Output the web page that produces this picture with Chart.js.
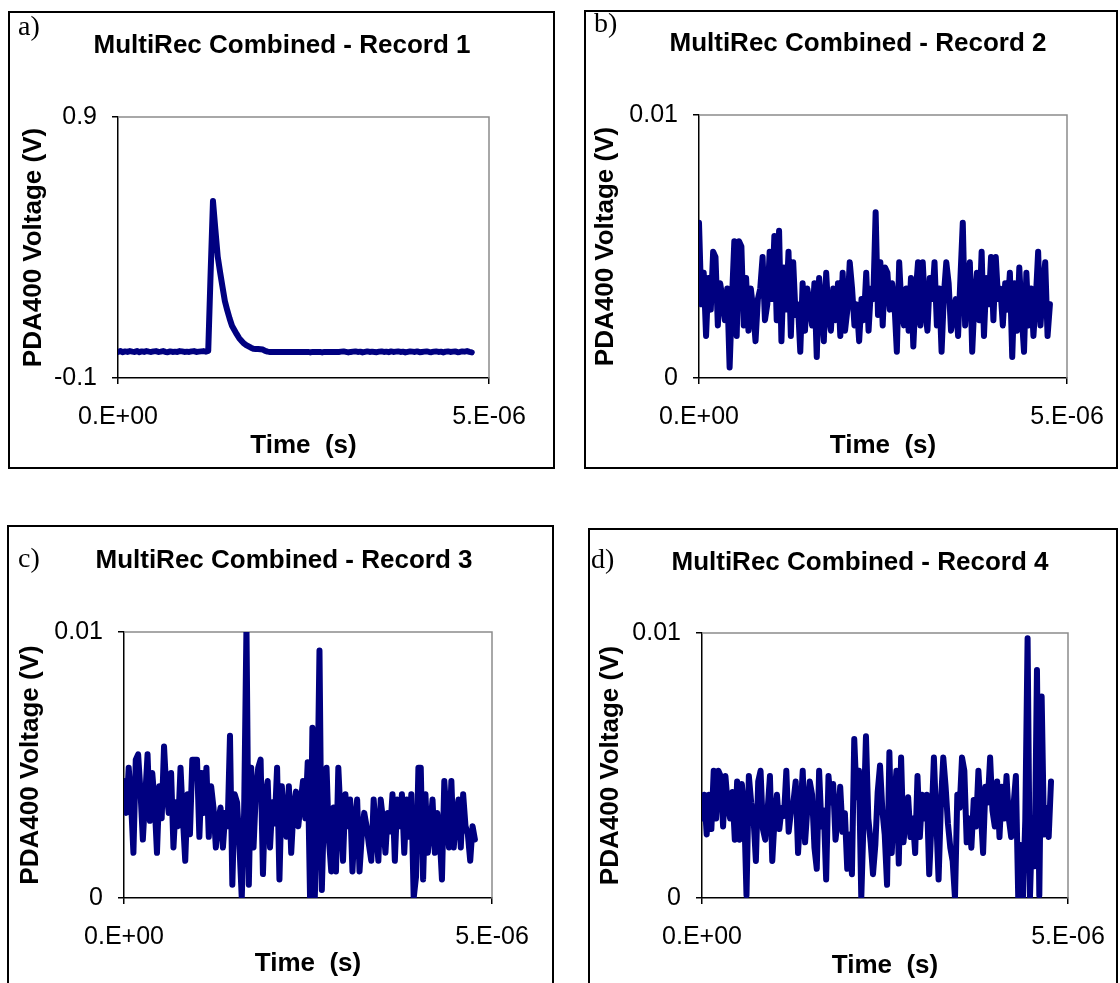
<!DOCTYPE html>
<html>
<head>
<meta charset="utf-8">
<script src="https://cdn.jsdelivr.net/npm/chart.js@4.4.0/dist/chart.umd.min.js"></script>
<style>
body { margin: 0; width: 1120px; height: 983px; overflow: hidden; background: #fff; position: relative; font-family: "Liberation Sans", Arial, sans-serif; }
.frame { position: absolute; border: 2px solid #000; box-sizing: border-box; }
.tag { position: absolute; font-family: "Liberation Serif", "Times New Roman", serif; font-size: 28px; line-height: 28px; color: #000; z-index: 2; }
.title { position: absolute; width: 500px; text-align: center; font-weight: bold; font-size: 26px; line-height: 26px; color: #000; z-index: 2; white-space: nowrap; }
canvas { position: absolute; z-index: 1; }
</style>
</head>
<body>

<div class="frame" style="left:8px;top:11px;width:547px;height:458px"></div>
<div class="frame" style="left:584px;top:10px;width:534px;height:459px"></div>
<div class="frame" style="left:7px;top:525px;width:547px;height:470px"></div>
<div class="frame" style="left:588px;top:528px;width:530px;height:470px"></div>

<div class="tag" style="left:18px;top:12px">a)</div>
<div class="tag" style="left:594px;top:9px">b)</div>
<div class="tag" style="left:18px;top:544px">c)</div>
<div class="tag" style="left:591px;top:545px">d)</div>

<div class="title" style="left:32px;top:31px">MultiRec Combined - Record 1</div>
<div class="title" style="left:608px;top:29px">MultiRec Combined - Record 2</div>
<div class="title" style="left:34px;top:546px">MultiRec Combined - Record 3</div>
<div class="title" style="left:610px;top:548px">MultiRec Combined - Record 4</div>

<canvas id="chart1"></canvas>
<canvas id="chart2"></canvas>
<canvas id="chart3"></canvas>
<canvas id="chart4"></canvas>

<script>
// sampling of the scope records (s)
var timeStep = 0.032e-6;
var sampleCount = 150;

var xTicks = [0, 5e-6];
var xTickLabels = ['0.E+00', '5.E-06'];

var yTicks1 = [-0.1, 0.9];
var yTickLabels1 = ['-0.1', '0.9'];
var yTicksSmall = [0, 0.01];
var yTickLabelsSmall = ['0', '0.01'];

// PDA400 voltage (V)
var record1 = [
  0.000, 0.003, -0.001, 0.002, 0.000, 0.003, 0.001, 0.000, 0.003, -0.001,
  0.002, 0.000, 0.003, 0.001, 0.000, 0.002, 0.003, 0.000, 0.001, 0.003,
  0.000, -0.001, 0.002, 0.000, 0.001, 0.000, 0.003, 0.002, 0.000, 0.001,
  0.000, 0.002, 0.003, 0.000, 0.001, 0.002, 0.003, 0.001, 0.004, 0.300,
  0.578, 0.470, 0.365, 0.305, 0.250, 0.195, 0.160, 0.128, 0.100, 0.084,
  0.068, 0.053, 0.042, 0.033, 0.026, 0.021, 0.016, 0.012, 0.011, 0.011,
  0.010, 0.009, 0.004, 0.001, 0.000, 0.000, 0.000, 0.000, 0.000, 0.000,
  0.000, 0.000, 0.000, 0.000, 0.000, 0.000, 0.000, 0.000, 0.000, 0.000,
  0.000, -0.002, 0.000, 0.000, 0.000, 0.000, -0.002, 0.000, 0.000, 0.000,
  0.000, 0.000, 0.000, 0.000, 0.001, 0.002, 0.000, -0.002, 0.000, 0.001,
  0.002, 0.000, 0.001, -0.002, 0.000, 0.002, 0.000, 0.001, 0.000, -0.001,
  0.001, 0.002, 0.000, 0.001, -0.001, 0.002, 0.000, 0.001, 0.002, 0.000,
  0.001, -0.002, 0.000, 0.002, 0.001, 0.000, 0.002, -0.001, 0.000, 0.001,
  0.002, 0.000, -0.001, 0.001, 0.002, 0.000, 0.001, -0.002, 0.001, 0.002,
  0.000, 0.001, 0.002, -0.001, 0.000, 0.002, 0.001, 0.003, 0.000, -0.002
];

var record2 = [
  0.0059, 0.0028, 0.0040, 0.0016, 0.0038, 0.0026, 0.0048, 0.0046, 0.0020, 0.0036,
  0.0030, 0.0022, 0.0034, 0.0004, 0.0030, 0.0052, 0.0016, 0.0052, 0.0050, 0.0020,
  0.0038, 0.0018, 0.0034, 0.0026, 0.0014, 0.0030, 0.0034, 0.0046, 0.0022, 0.0028,
  0.0048, 0.0030, 0.0054, 0.0022, 0.0056, 0.0014, 0.0042, 0.0026, 0.0048, 0.0016,
  0.0044, 0.0024, 0.0028, 0.0010, 0.0036, 0.0018, 0.0034, 0.0028, 0.0020, 0.0036,
  0.0008, 0.0038, 0.0028, 0.0014, 0.0040, 0.0024, 0.0018, 0.0034, 0.0022, 0.0036,
  0.0016, 0.0040, 0.0018, 0.0026, 0.0044, 0.0034, 0.0020, 0.0028, 0.0014, 0.0030,
  0.0022, 0.0040, 0.0018, 0.0034, 0.0030, 0.0063, 0.0024, 0.0044, 0.0020, 0.0042,
  0.0040, 0.0026, 0.0036, 0.0028, 0.0010, 0.0044, 0.0026, 0.0020, 0.0034, 0.0018,
  0.0038, 0.0012, 0.0032, 0.0044, 0.0020, 0.0044, 0.0026, 0.0018, 0.0038, 0.0030,
  0.0044, 0.0020, 0.0034, 0.0010, 0.0032, 0.0044, 0.0036, 0.0018, 0.0024, 0.0030,
  0.0016, 0.0038, 0.0059, 0.0020, 0.0036, 0.0044, 0.0010, 0.0030, 0.0040, 0.0022,
  0.0048, 0.0016, 0.0038, 0.0028, 0.0046, 0.0022, 0.0046, 0.0030, 0.0034, 0.0020,
  0.0036, 0.0026, 0.0040, 0.0008, 0.0036, 0.0018, 0.0042, 0.0024, 0.0010, 0.0040,
  0.0020, 0.0034, 0.0016, 0.0030, 0.0048, 0.0020, 0.0034, 0.0044, 0.0016, 0.0028
];

var record3 = [
  0.0044, 0.0032, 0.0049, 0.0036, 0.0017, 0.0052, 0.0054, 0.0040, 0.0022, 0.0038,
  0.0054, 0.0029, 0.0047, 0.0036, 0.0017, 0.0042, 0.0030, 0.0057, 0.0040, 0.0032,
  0.0047, 0.0019, 0.0036, 0.0027, 0.0049, 0.0030, 0.0014, 0.0039, 0.0024, 0.0052,
  0.0052, 0.0052, 0.0023, 0.0047, 0.0032, 0.0049, 0.0023, 0.0042, 0.0034, 0.0019,
  0.0029, 0.0034, 0.0019, 0.0032, 0.0027, 0.0061, 0.0005, 0.0039, 0.0036, 0.0020,
  0.0000, 0.0032, 0.0102, 0.0005, 0.0049, 0.0019, 0.0040, 0.0049, 0.0052, 0.0009,
  0.0038, 0.0044, 0.0019, 0.0036, 0.0028, 0.0049, 0.0007, 0.0042, 0.0030, 0.0023,
  0.0042, 0.0017, 0.0034, 0.0040, 0.0027, 0.0036, 0.0044, 0.0030, 0.0051, 0.0000,
  0.0064, 0.0000, 0.0030, 0.0093, 0.0003, 0.0036, 0.0049, 0.0022, 0.0010, 0.0034,
  0.0010, 0.0049, 0.0030, 0.0014, 0.0039, 0.0027, 0.0037, 0.0010, 0.0029, 0.0037,
  0.0010, 0.0024, 0.0032, 0.0027, 0.0020, 0.0014, 0.0037, 0.0025, 0.0014, 0.0037,
  0.0029, 0.0017, 0.0032, 0.0025, 0.0039, 0.0014, 0.0037, 0.0027, 0.0039, 0.0017,
  0.0037, 0.0023, 0.0039, 0.0000, 0.0008, 0.0049, 0.0049, 0.0007, 0.0039, 0.0017,
  0.0026, 0.0037, 0.0017, 0.0032, 0.0024, 0.0007, 0.0044, 0.0030, 0.0019, 0.0044,
  0.0019, 0.0030, 0.0037, 0.0019, 0.0039, 0.0027, 0.0024, 0.0014, 0.0027, 0.0022
];

var record4 = [
  0.0030, 0.0039, 0.0024, 0.0039, 0.0026, 0.0048, 0.0030, 0.0048, 0.0046, 0.0027,
  0.0046, 0.0035, 0.0030, 0.0040, 0.0022, 0.0044, 0.0022, 0.0043, 0.0034, 0.0001,
  0.0046, 0.0036, 0.0030, 0.0014, 0.0044, 0.0048, 0.0026, 0.0022, 0.0033, 0.0046,
  0.0014, 0.0030, 0.0039, 0.0026, 0.0034, 0.0031, 0.0048, 0.0025, 0.0033, 0.0036,
  0.0044, 0.0017, 0.0032, 0.0048, 0.0021, 0.0034, 0.0044, 0.0039, 0.0019, 0.0011,
  0.0048, 0.0027, 0.0033, 0.0007, 0.0046, 0.0036, 0.0043, 0.0022, 0.0030, 0.0042,
  0.0025, 0.0032, 0.0011, 0.0024, 0.0009, 0.0060, 0.0038, 0.0048, 0.0000, 0.0030,
  0.0061, 0.0030, 0.0021, 0.0009, 0.0020, 0.0040, 0.0050, 0.0033, 0.0024, 0.0005,
  0.0055, 0.0017, 0.0036, 0.0048, 0.0013, 0.0053, 0.0021, 0.0030, 0.0038, 0.0023,
  0.0030, 0.0017, 0.0046, 0.0023, 0.0039, 0.0030, 0.0039, 0.0009, 0.0029, 0.0053,
  0.0030, 0.0007, 0.0036, 0.0053, 0.0042, 0.0028, 0.0019, 0.0014, 0.0000, 0.0039,
  0.0034, 0.0053, 0.0048, 0.0021, 0.0030, 0.0019, 0.0037, 0.0027, 0.0048, 0.0033,
  0.0017, 0.0042, 0.0036, 0.0053, 0.0033, 0.0027, 0.0044, 0.0023, 0.0042, 0.0030,
  0.0046, 0.0030, 0.0023, 0.0035, 0.0046, 0.0000, 0.0020, 0.0000, 0.0029, 0.0098,
  0.0000, 0.0030, 0.0012, 0.0086, 0.0001, 0.0076, 0.0024, 0.0034, 0.0023, 0.0044
];

var sampleTimes = [];
for (var i = 0; i < sampleCount; i++) {
    sampleTimes.push(i * timeStep);
}

// plot box on the page [left, top, right, bottom] and title offsets
var panels = [
    { id: 'chart1', plot: [118, 117, 489, 378], values: record1, yTicks: yTicks1, yLabels: yTickLabels1, yPad: 10, xPad: 7 },
    { id: 'chart2', plot: [699, 115, 1067, 378], values: record2, yTicks: yTicksSmall, yLabels: yTickLabelsSmall, yPad: 1, xPad: 7 },
    { id: 'chart3', plot: [124, 632, 492, 898], values: record3, yTicks: yTicksSmall, yLabels: yTickLabelsSmall, yPad: 1, xPad: 9 },
    { id: 'chart4', plot: [702, 633, 1068, 898], values: record4, yTicks: yTicksSmall, yLabels: yTickLabelsSmall, yPad: 3, xPad: 7 }
];

var AXIS_W = 110, AXIS_H = 90, PAD_TOP = 105, PAD_RIGHT = 60;

// grey top/right edge of the plot area, like Excel
var plotFrame = {
    id: 'plotFrame',
    beforeDatasetsDraw: function(chart) {
        var a = chart.chartArea;
        var ctx = chart.ctx;
        ctx.save();
        ctx.strokeStyle = '#8c8c8c';
        ctx.lineWidth = 1.5;
        ctx.beginPath();
        ctx.moveTo(a.left, a.top);
        ctx.lineTo(a.right, a.top);
        ctx.lineTo(a.right, a.bottom);
        ctx.stroke();
        ctx.restore();
    }
};

var tickFont = { family: '"Liberation Sans", Arial, sans-serif', size: 25 };
var titleFont = { family: '"Liberation Sans", Arial, sans-serif', size: 26, weight: 'bold' };

panels.forEach(function(p) {
    var canvas = document.getElementById(p.id);
    var w = p.plot[2] - p.plot[0] + AXIS_W + PAD_RIGHT;
    var h = p.plot[3] - p.plot[1] + PAD_TOP + AXIS_H;
    canvas.width = w;
    canvas.height = h;
    canvas.style.width = w + 'px';
    canvas.style.height = h + 'px';
    canvas.style.left = (p.plot[0] - AXIS_W) + 'px';
    canvas.style.top = (p.plot[1] - PAD_TOP) + 'px';

    var points = sampleTimes.map(function(t, k) {
        return { x: t, y: p.values[k] };
    });

    new Chart(canvas.getContext('2d'), {
        type: 'line',
        data: {
            datasets: [{
                data: points,
                borderColor: '#000080',
                borderWidth: 6,
                borderJoinStyle: 'round',
                borderCapStyle: 'round',
                pointRadius: 0,
                tension: 0,
                fill: false,
                clip: 0
            }]
        },
        options: {
            responsive: false,
            animation: false,
            events: [],
            layout: { padding: { top: PAD_TOP, right: PAD_RIGHT, left: 0, bottom: 0 } },
            plugins: { legend: { display: false }, tooltip: { enabled: false } },
            scales: {
                x: {
                    type: 'linear',
                    min: xTicks[0],
                    max: xTicks[xTicks.length - 1],
                    afterBuildTicks: function(scale) {
                        scale.ticks = xTicks.map(function(v) { return { value: v }; });
                    },
                    afterFit: function(scale) { scale.height = AXIS_H; },
                    grid: { drawOnChartArea: false, drawTicks: true, tickLength: 6, color: '#000', lineWidth: 1.5 },
                    border: { color: '#000', width: 1.5 },
                    ticks: {
                        color: '#000',
                        font: tickFont,
                        padding: 18,
                        maxRotation: 0,
                        autoSkip: false,
                        callback: function(value, index) { return xTickLabels[index]; }
                    },
                    title: { display: true, text: 'Time  (s)', color: '#000', font: titleFont, padding: { top: 0, bottom: p.xPad } }
                },
                y: {
                    type: 'linear',
                    min: p.yTicks[0],
                    max: p.yTicks[p.yTicks.length - 1],
                    afterBuildTicks: function(scale) {
                        scale.ticks = p.yTicks.map(function(v) { return { value: v }; });
                    },
                    afterFit: function(scale) { scale.width = AXIS_W; },
                    grid: { drawOnChartArea: false, drawTicks: true, tickLength: 6, color: '#000', lineWidth: 1.5 },
                    border: { color: '#000', width: 1.5 },
                    ticks: {
                        color: '#000',
                        font: tickFont,
                        padding: 15,
                        callback: function(value, index) { return p.yLabels[index]; }
                    },
                    title: { display: true, text: 'PDA400 Voltage (V)', color: '#000', font: titleFont, padding: { top: p.yPad, bottom: 0 } }
                }
            }
        },
        plugins: [plotFrame]
    });
});
</script>
</body>
</html>
